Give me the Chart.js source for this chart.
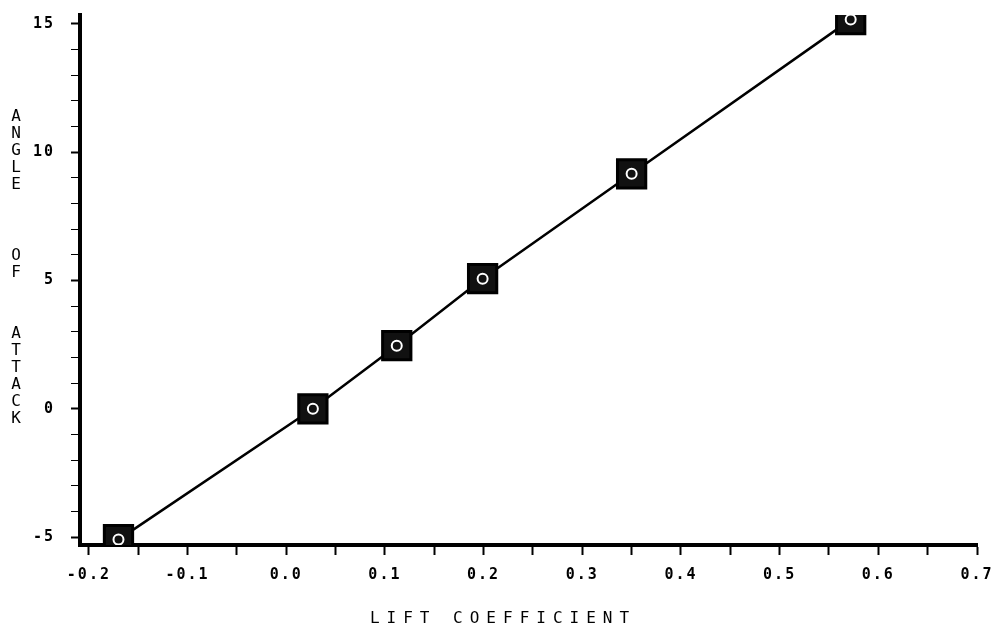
<!DOCTYPE html>
<html>
<head>
<meta charset="utf-8">
<script src="https://cdn.jsdelivr.net/npm/chart.js@4/dist/chart.umd.min.js"></script>
<style>
  html, body { margin: 0; padding: 0; background: #fff; }
  #wrap { width: 995px; height: 635px; }
</style>
</head>
<body>
<div id="wrap"><canvas id="chart" width="995" height="635"></canvas></div>
<script>
// values
const liftCoef = [-0.17, 0.027, 0.112, 0.199, 0.35, 0.572];
const angleOfAttack = [-5.1, 0.0, 2.46, 5.07, 9.16, 15.17];

const xTickValues = [-0.2, -0.15, -0.1, -0.05, 0.0, 0.05, 0.1, 0.15, 0.2, 0.25, 0.3, 0.35, 0.4, 0.45, 0.5, 0.55, 0.6, 0.65, 0.7];
const xTickLabels = ['-0.2', '-0.1', '0.0', '0.1', '0.2', '0.3', '0.4', '0.5', '0.6', '0.7'];
const yTickValues = [-5, -4, -3, -2, -1, 0, 1, 2, 3, 4, 5, 6, 7, 8, 9, 10, 11, 12, 13, 14, 15];
const yTickLabels = ['-5', '0', '5', '10', '15'];

const xTitle = 'LIFT COEFFICIENT';
const yTitleWords = ['ANGLE', 'OF', 'ATTACK'];

const points = liftCoef.map((x, i) => ({ x: x, y: angleOfAttack[i] }));

const monoBold = { family: 'DejaVu Sans Mono', size: 15, weight: 'bold' };

// plotter-style wide tick text, stacked y title, spaced x title
const axisTitles = {
    id: 'axisTitles',
    beforeDraw(chart) {
        chart.ctx.letterSpacing = '2px';
    },
    afterDraw(chart) {
        const ctx = chart.ctx;
        ctx.save();
        ctx.fillStyle = '#000';
        ctx.font = '16px "DejaVu Sans Mono"';
        ctx.textAlign = 'center';
        ctx.textBaseline = 'middle';
        ctx.letterSpacing = '0px';
        const wordStarts = [117, 256, 334];
        yTitleWords.forEach((w, wi) => {
            [...w].forEach((ch, ci) => ctx.fillText(ch, 16, wordStarts[wi] + ci * 17));
        });
        ctx.letterSpacing = '7px';
        ctx.fillText(xTitle, 503, 619);
        ctx.restore();
    }
};

new Chart(document.getElementById('chart'), {
    type: 'line',
    data: {
        datasets: [
            {
                data: points,
                showLine: false,
                pointStyle: 'circle',
                pointRadius: 5,
                pointBorderColor: '#fff',
                pointBorderWidth: 2,
                pointBackgroundColor: 'rgba(0,0,0,0)',
                order: 0
            },
            {
                data: points,
                borderColor: '#000',
                borderWidth: 2.5,
                tension: 0,
                pointStyle: 'rect',
                pointRadius: 20,
                pointBackgroundColor: '#111',
                pointBorderColor: '#000',
                pointBorderWidth: 3,
                order: 1
            }
        ]
    },
    options: {
        responsive: false,
        animation: false,
        layout: { autoPadding: false, padding: { top: 15, right: 18, left: 0, bottom: 0 } },
        plugins: { legend: { display: false }, tooltip: { enabled: false } },
        scales: {
            x: {
                type: 'linear',
                min: -0.209,
                max: 0.7,
                afterBuildTicks: s => { s.ticks = xTickValues.map(v => ({ value: v })); },
                afterFit: s => { s.height = 90; s.paddingLeft = 0; s.paddingRight = 0; },
                ticks: {
                    autoSkip: false,
                    maxRotation: 0,
                    padding: 11,
                    color: '#000',
                    font: monoBold,
                    callback: v => {
                        const k = Math.round(v * 10);
                        return Math.abs(v * 10 - k) < 1e-6 ? xTickLabels[k + 2] : '';
                    }
                },
                grid: { drawOnChartArea: false, drawTicks: true, tickLength: 10, tickColor: '#000', tickWidth: 2 },
                border: { display: true, color: '#000', width: 4 }
            },
            y: {
                type: 'linear',
                min: -5.31,
                max: 15.35,
                afterBuildTicks: s => { s.ticks = yTickValues.map(v => ({ value: v })); },
                afterFit: s => { s.width = 80; s.paddingTop = 0; s.paddingBottom = 0; },
                ticks: {
                    autoSkip: false,
                    padding: 16,
                    color: '#000',
                    font: monoBold,
                    callback: v => (v % 5 === 0 ? yTickLabels[(v + 5) / 5] : '')
                },
                grid: {
                    drawOnChartArea: false,
                    drawTicks: true,
                    tickLength: 9,
                    tickColor: '#000',
                    tickWidth: c => (c.tick && c.tick.value % 5 === 0 ? 2 : 1)
                },
                border: { display: true, color: '#000', width: 4 }
            }
        }
    },
    plugins: [axisTitles]
});
</script>
</body>
</html>
